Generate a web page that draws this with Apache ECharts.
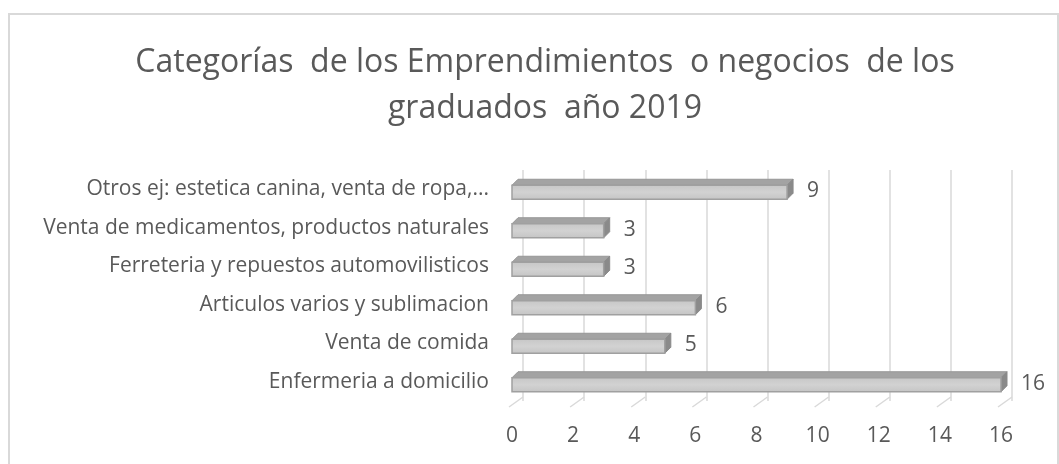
<!DOCTYPE html>
<html>
<head>
<meta charset="UTF-8">
<title>Categorías</title>
<script src="https://cdn.jsdelivr.net/npm/echarts@6/dist/echarts.min.js"></script>
<style type="text/css">
	* { margin: 0px; padding: 0px; }
	body { background: #fff; }
	#container { width: 1059px; height: 464px; }
</style>
</head>
<body>
<div id="container"></div>
<script>
	// categorias (de abajo hacia arriba) y valores
	var categorias = [
		'Enfermeria a domicilio',
		'Venta de comida',
		'Articulos varios y sublimacion',
		'Ferreteria y repuestos automovilisticos',
		'Venta de medicamentos, productos naturales',
		'Otros ej: estetica canina, venta de ropa,...'
	];
	var valores = [16, 5, 6, 3, 3, 9];
	var ticks = [0, 2, 4, 6, 8, 10, 12, 14, 16];
	var titulo = 'Categorías  de los Emprendimientos  o negocios  de los\ngraduados  año 2019';

	var fuente = 'Open Sans';
	var gris = '#595959';

	// barra con aspecto 3D
	function renderBar(params, api) {
		var v = api.value(0), i = api.value(1);
		var p0 = api.coord([0, i]);
		var p1 = api.coord([v, i]);
		var cy = p0[1];
		var x0 = p0[0] - 11, x1 = p1[0] - 11;
		var d = 6;
		return {
			type: 'group',
			children: [{
				type: 'polygon',
				shape: { points: [[x0, cy - 4], [x0 + d, cy - 4 - d], [x1 + d, cy - 4 - d], [x1, cy - 4]] },
				style: { fill: '#a3a3a3', stroke: '#969696', lineWidth: 1 }
			}, {
				type: 'polygon',
				shape: { points: [[x1, cy - 4], [x1 + d, cy - 4 - d], [x1 + d, cy + 10 - d], [x1, cy + 10]] },
				style: { fill: '#8a8a8a', stroke: '#8a8a8a', lineWidth: 1 }
			}, {
				type: 'rect',
				shape: { x: x0, y: cy - 4, width: x1 - x0, height: 14 },
				style: {
					fill: new echarts.graphic.LinearGradient(0, 0, 0, 1, [
						{ offset: 0, color: '#c6c6c6' },
						{ offset: 0.5, color: '#d2d2d2' },
						{ offset: 1, color: '#c4c4c4' }
					]),
					stroke: '#a0a0a0', lineWidth: 1.5
				}
			}, {
				type: 'text',
				style: {
					x: p1[0] + 9, y: cy + 2, text: String(v),
					fill: gris, font: '21px "' + fuente + '"',
					textAlign: 'left', textVerticalAlign: 'middle'
				}
			}]
		};
	}

	// lineas del "piso" inclinadas
	function renderPiso(params, api) {
		var v = api.value(0);
		var p = api.coord([v, 0]);
		var band = api.size([0, 1])[1];
		var yb = p[1] + band / 2 - 4;
		return {
			type: 'line',
			shape: { x1: p[0], y1: yb, x2: p[0] - 14, y2: yb + 10 },
			style: { stroke: '#d9d9d9', lineWidth: 1.5 }
		};
	}

	var dom = document.getElementById('container');
	var myChart = echarts.init(dom);
	var option = {
		animation: false,
		graphic: [{
			type: 'rect',
			shape: { x: 9, y: 14, width: 1049, height: 470 },
			style: { fill: 'none', stroke: '#d9d9d9', lineWidth: 2 },
			silent: true
		}, {
			type: 'text',
			x: 545, y: 40,
			style: {
				text: titulo, fill: gris,
				font: '32px "' + fuente + '"',
				lineHeight: 46,
				textAlign: 'center', textVerticalAlign: 'top'
			}
		}],
		grid: { left: 523, right: 47, top: 170, bottom: 63, containLabel: false },
		xAxis: {
			type: 'value', min: 0, max: 16, interval: 2,
			axisLine: { show: false }, axisTick: { show: false },
			splitLine: { lineStyle: { color: '#d9d9d9', width: 1.5 } },
			axisLabel: {
				color: gris, fontFamily: fuente, fontSize: 21,
				margin: 25, padding: [0, 22, 0, 0]
			}
		},
		yAxis: {
			type: 'category', data: categorias,
			axisLine: { show: false }, axisTick: { show: false },
			axisLabel: { color: gris, fontFamily: fuente, fontSize: 21, margin: 34, padding: [4, 0, 0, 0] }
		},
		series: [{
			type: 'custom',
			renderItem: renderPiso,
			data: ticks.map(function (t) { return [t]; }),
			silent: true
		}, {
			type: 'custom',
			renderItem: renderBar,
			encode: { x: 0, y: 1 },
			data: valores.map(function (v, i) { return [v, i]; })
		}]
	};
	myChart.setOption(option);
</script>
</body>
</html>
